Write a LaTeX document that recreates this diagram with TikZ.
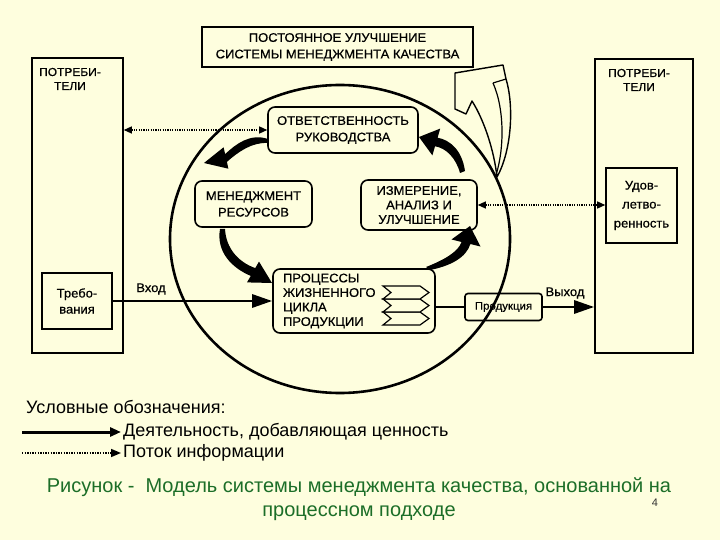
\documentclass[tikz,border=0pt]{standalone}
\usepackage{fontspec}
\setmainfont{Liberation Sans}
\newfontfamily\dfont[FakeStretch=1.04,FakeBold=0.6]{Liberation Sans}
\usetikzlibrary{arrows.meta}
\definecolor{bg}{RGB}{254,254,222}
\definecolor{capgreen}{RGB}{28,110,40}
\begin{document}
\begin{tikzpicture}[x=1pt,y=-1pt,
  sqbox/.style={draw,line width=1.6pt,inner sep=0pt,align=center},
  rbox/.style={sqbox,rounded corners=7pt},
  capsA/.style={font=\dfont\fontsize{12.5}{16.5}\selectfont},
  capsB/.style={font=\dfont\fontsize{12.5}{14.5}\selectfont},
  capsC/.style={font=\dfont\fontsize{11.5}{14}\selectfont},
  smallt/.style={font=\dfont\fontsize{12.5}{16}\selectfont},
  flow/.style={line width=2.8pt},
  bighead/.style={-{Triangle[length=20pt,width=13pt]}},
  info/.style={line width=1.3pt,dash pattern=on 1.2pt off 1.2pt,
     {Triangle[length=8pt,width=7pt]}-{Triangle[length=8pt,width=7pt]}},
  cyc/.style={fill=black},
  chev/.style={draw,line width=1.2pt,fill=bg,line join=miter},
  legendt/.style={font=\fontsize{18}{21}\selectfont,anchor=west,inner sep=0pt}
]
\fill[bg] (0,0) rectangle (720,540);
\useasboundingbox (0,0) rectangle (720,540);

% big circle
\draw[line width=2.6pt] (340,239) ellipse [x radius=170, y radius=154];

% top box
\node[sqbox,capsA,line width=2pt,minimum width=271pt,minimum height=40pt] (top) at (337.5,47)
  {ПОСТОЯННОЕ УЛУЧШЕНИЕ\\СИСТЕМЫ МЕНЕДЖМЕНТА КАЧЕСТВА};

% customers
\node[sqbox,minimum width=91pt,minimum height=295pt] (lc) at (77.5,205.5) {};
\node[capsC,align=center] (lct) at (70,79) {ПОТРЕБИ-\\ТЕЛИ};
\node[sqbox,minimum width=98pt,minimum height=294pt] (rc) at (644,206) {};
\node[capsC,align=center] (rct) at (639,80) {ПОТРЕБИ-\\ТЕЛИ};

\node[sqbox,font=\dfont\fontsize{12.5}{16}\selectfont,minimum width=70pt,minimum height=56pt] (req) at (77,301) {Требо-\\вания};
\node[sqbox,font=\dfont\fontsize{12.5}{19}\selectfont,minimum width=71pt,minimum height=75pt] (sat) at (641.5,205.5) {Удов-\\летво-\\ренность};

% inner boxes
\node[rbox,capsA,minimum width=150pt,minimum height=46pt] (otv) at (343,130) {ОТВЕТСТВЕННОСТЬ\\РУКОВОДСТВА};
\node[rbox,capsA,minimum width=117pt,minimum height=46pt] (res) at (253.5,204) {МЕНЕДЖМЕНТ\\РЕСУРСОВ};
\node[rbox,capsB,minimum width=116pt,minimum height=50pt] (izm) at (419,205) {ИЗМЕРЕНИЕ,\\АНАЛИЗ И\\УЛУЧШЕНИЕ};
\node[rbox,capsB,minimum width=162pt,minimum height=64pt,text width=142pt,align=left] (proc) at (354,301)
  {ПРОЦЕССЫ\\ЖИЗНЕННОГО\\ЦИКЛА\\ПРОДУКЦИИ};
\node[sqbox,rounded corners=3pt,font=\dfont\fontsize{11}{13}\selectfont,minimum width=77pt,minimum height=27pt] (prod) at (503.5,307) {Продукция};

% chevrons
\foreach \yy in {312,299,286}{
  \draw[chev] (383,\yy) -- (420,\yy) -- (429,\yy+6.5) -- (420,\yy+13) -- (383,\yy+13) -- (391,\yy+6.5) -- cycle;
}

% flows
\draw[flow,bighead] (req.east) -- (proc.west);
\node[smallt] (vin) at (151,289) {Вход};
\draw[flow] (proc.east |- prod.west) -- (prod.west);
\draw[flow,bighead] (prod.east) -- (rc.west |- prod.east);
\node[smallt] (vout) at (565,293) {Выход};

% information
\draw[info] (lc.east |- otv.west) -- (otv.west);
\draw[info] (izm.east) -- (sat.west |- izm.east);

% cycle arrows
\fill[cyc] (268,139) .. controls (250,133) and (236,144) .. (225.1,154.1) -- (223.6,147.3) -- (204,163)
  -- (228.4,168.7) -- (226.9,161.9) .. controls (238,152) and (252,142) .. (268,143) -- cycle;
\fill[cyc] (220,229) .. controls (216,252) and (232,268) .. (250.75,275.9) -- (247,282.4) -- (272,283)
  -- (259,261.6) -- (255.25,268.1) .. controls (238,262) and (226,248) .. (225,229) -- cycle;
\fill[cyc] (430,270) .. controls (450,266) and (466,258) .. (470.4,244) -- (480.5,246.5) -- (470,226)
  -- (451.5,239.5) -- (461.6,242) .. controls (458,252) and (444,260) .. (426,267) -- cycle;
\fill[cyc] (465,171) .. controls (462,150) and (450,140) .. (437.6,137.7) -- (440.2,128.6) -- (419,137)
  -- (432.4,155.4) -- (435,146.3) .. controls (446,148) and (456,158) .. (460,173) -- cycle;

% hollow improvement arrow
\draw[line width=1.4pt,fill=bg,line join=round] (497,177) .. controls (512,150) and (514,105) .. (506,79)
  -- (503,65) -- (455,73) -- (455,109) -- (466,114) -- (472,101)
  .. controls (484,120) and (494,150) .. (497,177) -- cycle;
\draw[line width=1.2pt] (506,79) -- (493,83);
\draw[line width=1.2pt] (493,83) .. controls (505,110) and (504,150) .. (496,175);

% legend
\node[legendt] (leg) at (26,407) {Условные обозначения:};
\coordinate (l1a) at (22,432); \coordinate (l1b) at (121,432);
\draw[line width=3pt,-{Triangle[length=11pt,width=9pt]}] (l1a) -- (l1b);
\node[legendt] (l1t) at (123,432) {Деятельность, добавляющая ценность};
\coordinate (l2a) at (22,453); \coordinate (l2b) at (121,453);
\draw[line width=1.6pt,dash pattern=on 1.3pt off 1.3pt,-{Triangle[length=10pt,width=8pt]}] (l2a) -- (l2b);
\node[legendt] (l2t) at (123,453) {Поток информации};

% caption
\node[text=capgreen,font=\fontsize{20}{24}\selectfont,align=center] (cap) at (359,499)
  {Рисунок -\ \ Модель системы менеджмента качества, основанной на\\процессном подходе};
\node[font=\fontsize{11}{12}\selectfont,text=black!80] (pg) at (655,503) {4};
\end{tikzpicture}
\end{document}
